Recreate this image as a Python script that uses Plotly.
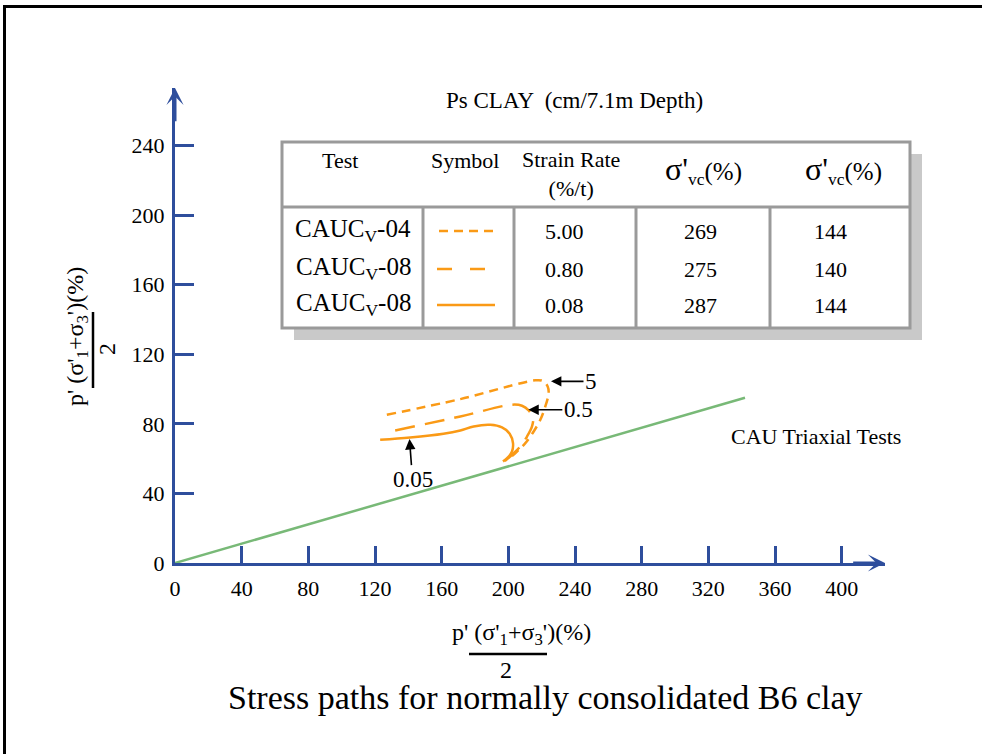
import plotly.graph_objects as go

# ---------------- data ----------------
# Stress paths (x = p', y = q)
sr500_x = [127.1, 171.2, 216.2, 220.8, 223.6, 224.2, 222.2, 219.2, 215.2, 210.2, 205.2, 200.2]
sr500_y = [85.2, 94.2, 105.0, 104.6, 101.5, 97.7, 90.0, 82.3, 75.6, 68.9, 64.1, 59.7]

sr080_x = [132.1, 171.2, 202.2, 208.2, 212.2, 214.8, 214.2, 211.2, 206.8, 202.2, 197.6]
sr080_y = [76.2, 84.2, 91.0, 90.4, 87.7, 83.3, 78.5, 72.7, 66.6, 62.2, 58.3]

sr008_x = [123.1, 141.1, 161.1, 171.2, 179.2, 189.2, 196.2, 200.8, 202.8, 202.2, 200.2, 196.8]
sr008_y = [70.8, 72.1, 74.3, 76.2, 78.5, 79.4, 77.9, 74.3, 68.9, 64.1, 61.2, 58.3]

# CAU triaxial failure line
cau_x = [0, 342]
cau_y = [0, 95]

# axis ticks
x_ticks = [0, 40, 80, 120, 160, 200, 240, 280, 320, 360, 400]
y_ticks = [0, 40, 80, 120, 160, 200, 240]

# table content
SIG = "<span style='font-size:32px'>σ'</span><sub>vc</sub>(%)"
tbl_header = ["Test", "Symbol", "Strain Rate<br>(%/t)", SIG, SIG]
tbl_tests = ["CAUC<sub>V</sub>-04", "CAUC<sub>V</sub>-08", "CAUC<sub>V</sub>-08"]
tbl_rates = ["5.00", "0.80", "0.08"]
tbl_sig1 = ["269", "275", "287"]
tbl_sig2 = ["144", "140", "144"]

# curve labels
lbl_text = ["5", "0.5", "0.05"]
lbl_x = [225.6, 212.0, 140.7]
lbl_y = [104.4, 88.1, 71.2]

# ---------------- layout helpers ----------------
W, H = 982, 754
L, R, T, B = 175, 885, 88, 563
PW, PH = R - L, B - T
XR = [0, 426]
YR = [0, 273]

def px(x):
    return (x - L) / PW

def py(y):
    return (B - y) / PH

SERIF = "Liberation Serif"
BLUE = "#2E4E9C"
ORANGE = "#FA9A16"
GREEN = "#78B977"
GRAY = "#9A9A9A"

fig = go.Figure()

fig.add_trace(go.Scatter(x=cau_x, y=cau_y, mode="lines",
                         line=dict(color=GREEN, width=2.5), showlegend=False,
                         hoverinfo="skip", cliponaxis=False))
fig.add_trace(go.Scatter(x=sr500_x, y=sr500_y, mode="lines",
                         line=dict(color=ORANGE, width=2.5, dash="9px,6px", shape="spline"),
                         showlegend=False, cliponaxis=False))
fig.add_trace(go.Scatter(x=sr080_x, y=sr080_y, mode="lines",
                         line=dict(color=ORANGE, width=2.5, dash="20px,10px", shape="spline"),
                         showlegend=False, cliponaxis=False))
fig.add_trace(go.Scatter(x=sr008_x, y=sr008_y, mode="lines",
                         line=dict(color=ORANGE, width=2.5, shape="spline"),
                         showlegend=False, cliponaxis=False))

shapes = []
annotations = []

def txt(x, y, s, size, angle=0):
    annotations.append(dict(xref="paper", yref="paper", x=px(x), y=py(y), text=s,
                            showarrow=False, textangle=angle,
                            font=dict(family=SERIF, size=size, color="black"),
                            xanchor="center", yanchor="middle"))

# outer frame
shapes.append(dict(type="rect", xref="paper", yref="paper",
                   x0=px(4.5), x1=px(1000), y0=py(6.5), y1=py(780),
                   line=dict(color="black", width=3), fillcolor="rgba(0,0,0,0)", layer="below"))

# table shadow, box, grid
tx0, tx1, ty0, ty1 = 282, 910, 142, 328
shapes.append(dict(type="rect", xref="paper", yref="paper",
                   x0=px(tx0 + 12), x1=px(tx1 + 12), y0=py(ty0 + 12), y1=py(ty1 + 12),
                   line=dict(width=0), fillcolor="#C9C9C9", layer="above"))
shapes.append(dict(type="rect", xref="paper", yref="paper",
                   x0=px(tx0), x1=px(tx1), y0=py(ty0), y1=py(ty1),
                   line=dict(color=GRAY, width=3), fillcolor="white", layer="above"))
shapes.append(dict(type="line", xref="paper", yref="paper",
                   x0=px(tx0), x1=px(tx1), y0=py(207), y1=py(207),
                   line=dict(color=GRAY, width=3), layer="above"))
for cx in [423, 514, 636, 770]:
    shapes.append(dict(type="line", xref="paper", yref="paper",
                       x0=px(cx), x1=px(cx), y0=py(207), y1=py(ty1),
                       line=dict(color=GRAY, width=3), layer="above"))

# header texts
hdr_pos = [(340, 160, 22), (465, 160, 22), (571, 174, 22), (703, 170, 25), (843, 170, 25)]
for s, (hx, hy, fs) in zip(tbl_header, hdr_pos):
    txt(hx, hy, s, fs)

row_y = [230, 268, 304]
sym_dash = ["9px,6px", "15px,18px", "solid"]
sym_x = [(439, 498), (437, 485), (437, 495)]
for i in range(3):
    ry = row_y[i]
    txt(353, ry, tbl_tests[i], 25)
    txt(564, ry + 1, tbl_rates[i], 22)
    txt(700, ry + 1, tbl_sig1[i], 22)
    txt(830, ry + 1, tbl_sig2[i], 22)
    shapes.append(dict(type="line", xref="paper", yref="paper",
                       x0=px(sym_x[i][0]), x1=px(sym_x[i][1]), y0=py(ry + 1), y1=py(ry + 1),
                       line=dict(color=ORANGE, width=2.5, dash=sym_dash[i]), layer="above"))

# title
txt(574, 100, "Ps CLAY  (cm/7.1m Depth)", 23)

# CAU label
txt(816, 436, "CAU Triaxial Tests", 22)

# curve labels with arrows
lbl_off = [(40, 0), (50, 0), (3, 40)]
for t, lx, ly, (oax, oay) in zip(lbl_text, lbl_x, lbl_y, lbl_off):
    annotations.append(dict(x=lx, y=ly, xref="x", yref="y", text=t, showarrow=True,
                            ax=oax, ay=oay, arrowhead=2, arrowsize=1.3, arrowwidth=1.6,
                            arrowcolor="black", font=dict(family=SERIF, size=23, color="black")))

# axis arrowheads
annotations.append(dict(x=XR[1], y=0, xref="x", yref="y", ax=XR[1] - 20, ay=0,
                        axref="x", ayref="y", text="", showarrow=True, arrowhead=3,
                        arrowsize=0.95, arrowwidth=3, arrowcolor=BLUE))
annotations.append(dict(x=0, y=YR[1], xref="x", yref="y", ax=0, ay=YR[1] - 20,
                        axref="x", ayref="y", text="", showarrow=True, arrowhead=3,
                        arrowsize=0.95, arrowwidth=3, arrowcolor=BLUE))

# axis titles as fractions
ax_lbl = "p' (σ'<sub>1</sub>+σ<sub>3</sub>')(%)"
txt(521, 634, ax_lbl, 24)
shapes.append(dict(type="line", xref="paper", yref="paper", x0=px(469), x1=px(547),
                   y0=py(654), y1=py(654), line=dict(color="black", width=2.5)))
txt(506, 670, "2", 24)

txt(77, 336, ax_lbl, 24, -90)
shapes.append(dict(type="line", xref="paper", yref="paper", x0=px(93), x1=px(93),
                   y0=py(312), y1=py(388), line=dict(color="black", width=2.5)))
txt(107, 349, "2", 24, -90)

# caption
txt(545, 697, "Stress paths for normally consolidated B6 clay", 34)

fig.update_layout(
    width=W, height=H,
    margin=dict(l=L, r=W - R, t=T, b=H - B, pad=0),
    paper_bgcolor="white", plot_bgcolor="white",
    showlegend=False,
    shapes=shapes, annotations=annotations,
    xaxis=dict(range=XR, tickvals=x_ticks, ticktext=[str(v) for v in x_ticks],
               ticks="inside", ticklen=17, tickwidth=3, tickcolor=BLUE,
               showline=True, linecolor=BLUE, linewidth=3, showgrid=False, zeroline=False,
               tickfont=dict(family=SERIF, size=22, color="black"),
               ticklabelstandoff=4, fixedrange=True),
    yaxis=dict(range=YR, tickvals=y_ticks, ticktext=[str(v) for v in y_ticks],
               ticks="inside", ticklen=19, tickwidth=3, tickcolor=BLUE,
               showline=True, linecolor=BLUE, linewidth=3, showgrid=False, zeroline=False,
               tickfont=dict(family=SERIF, size=22, color="black"),
               ticklabelstandoff=3, fixedrange=True),
)

fig.write_html("out.html", config={"displayModeBar": False})
